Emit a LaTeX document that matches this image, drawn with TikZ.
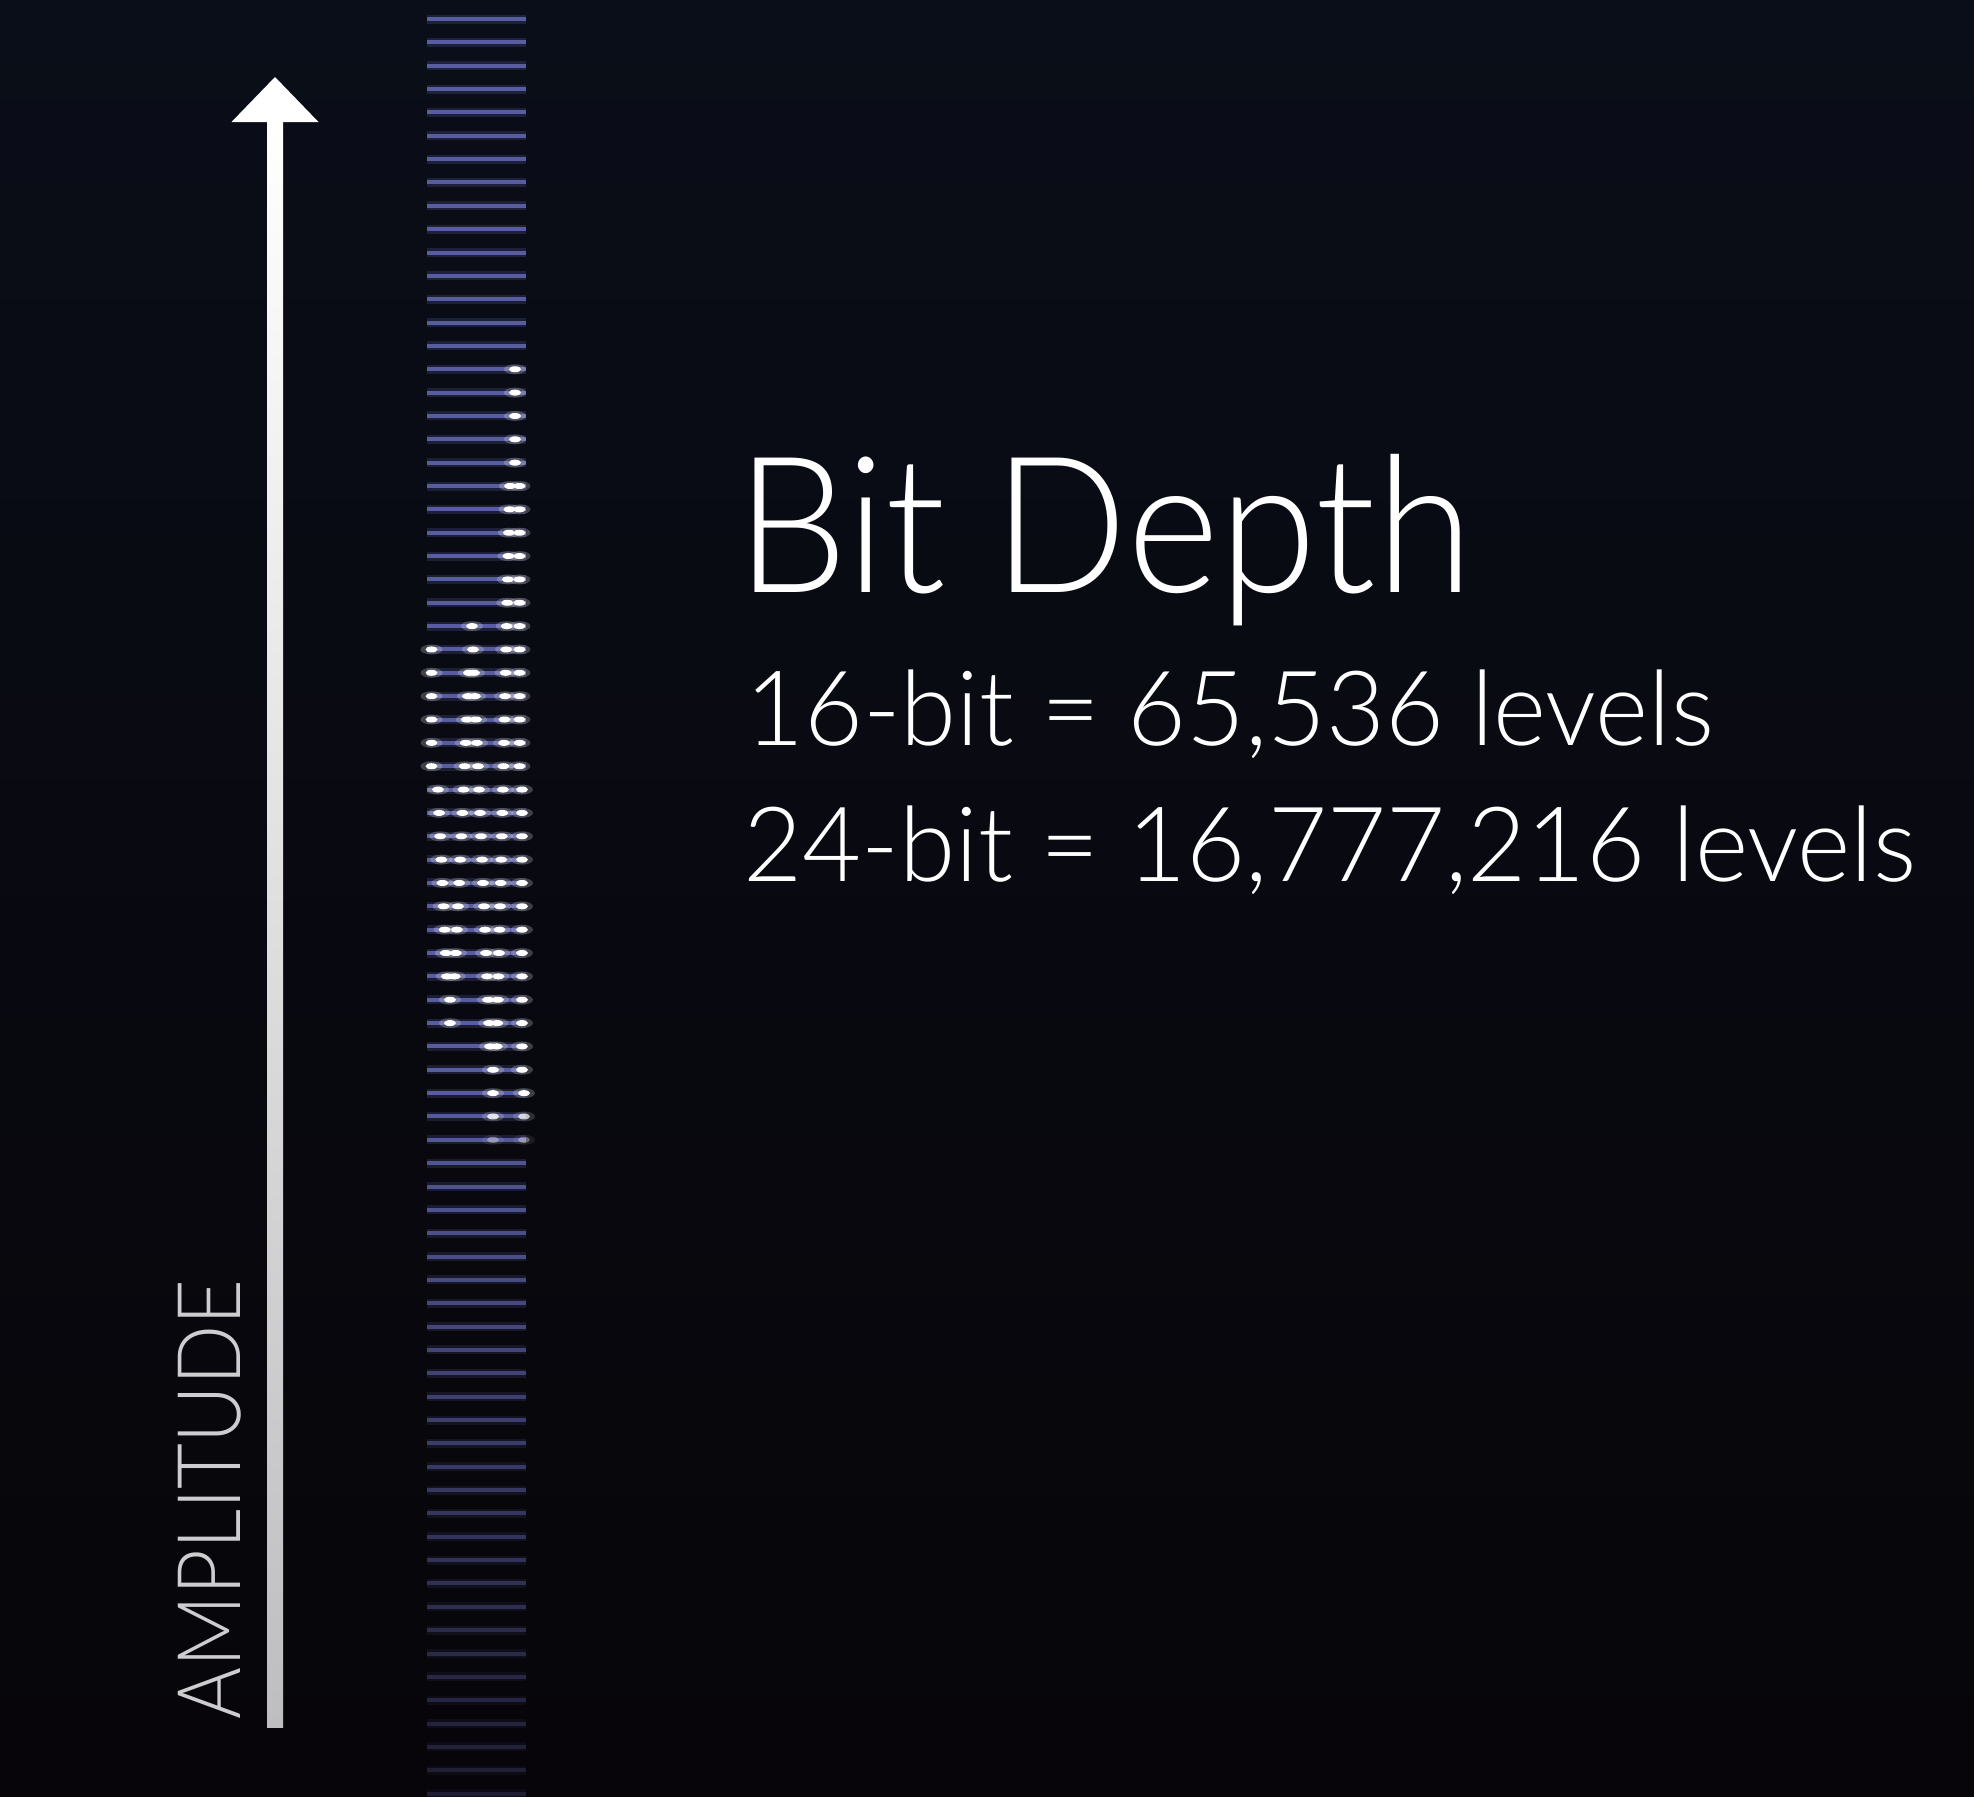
\documentclass[tikz,border=0pt]{standalone}
\usepackage{fontspec}
\setmainfont{Lato Light}
\usetikzlibrary{calc}
\definecolor{bgtop}{RGB}{10,14,24}
\definecolor{bgbot}{RGB}{7,5,9}
\definecolor{levelblue}{RGB}{88,92,160}
\definecolor{shaftgrey}{RGB}{190,190,192}
\definecolor{labelgrey}{RGB}{205,205,208}
\begin{document}
\begin{tikzpicture}[x=0.5pt,y=-0.5pt,
  level/.style={line width=2pt},
  levelglow/.style={line width=4.5pt,opacity=0.25},
  halo/.style={fill=white,opacity=0.22},
  sample/.style={fill=white},
  heading/.style={inner sep=0pt,anchor=base west,text=white}]
\useasboundingbox (0,0) rectangle (1974,1796);
\shade[top color=bgtop,bottom color=bgbot] (0,0) rectangle (1974,1796);
% quantisation levels
\foreach \k in {0,...,76}{
  \pgfmathtruncatemacro\fade{\k<46 ? 100 : 100-72*(\k-46)/30}
  \draw[levelglow,levelblue!\fade!bgbot] (427,19+23.35*\k) -- (526,19+23.35*\k);
  \draw[level,levelblue!\fade!bgbot] (427,19+23.35*\k) -- (526,19+23.35*\k);
}
% sample points
\foreach \k in {15,...,48}{
  \pgfmathsetmacro\px{\k<20 ? 515 : (\k<33 ? 519.5 : (\k<46 ? 522 : 524))}
  \pgfmathsetmacro\op{\k<47 ? 1 : (\k<48 ? 0.7 : 0.35)}
  \fill[halo,opacity=0.22*\op] (\px,19+23.35*\k) ellipse (11 and 5);
  \fill[sample,opacity=\op] (\px,19+23.35*\k) ellipse (6 and 3);
}
\foreach \k in {20,...,48}{
  \pgfmathsetmacro\px{\k<45 ? 510-0.55*(\k-20) : 493}
  \pgfmathsetmacro\op{\k<47 ? 1 : (\k<48 ? 0.8 : 0.35)}
  \fill[halo,opacity=0.22*\op] (\px,19+23.35*\k) ellipse (11 and 5);
  \fill[sample,opacity=\op] (\px,19+23.35*\k) ellipse (6 and 3);
}
\foreach \k in {26,...,44}{
  \fill[halo] (472+\k-26,19+23.35*\k) ellipse (11 and 5);
  \fill[sample] (472+\k-26,19+23.35*\k) ellipse (6 and 3);
}
\foreach \k in {28,...,43}{
  \pgfmathsetmacro\px{\k<42 ? 469-1.1*(\k-28) : 450}
  \fill[halo] (\px,19+23.35*\k) ellipse (11 and 5);
  \fill[sample] (\px,19+23.35*\k) ellipse (6 and 3);
}
\foreach \k in {27,...,41}{
  \pgfmathsetmacro\px{\k<33 ? 431.5 : 438+1.1*(\k-33)}
  \fill[halo] (\px,19+23.35*\k) ellipse (11 and 5);
  \fill[sample] (\px,19+23.35*\k) ellipse (6 and 3);
}
% amplitude axis
\coordinate (ampbot) at (275,1727);
\coordinate (amptop) at (275,122);
\coordinate (amptip) at (275,77);
\shade[top color=white,bottom color=shaftgrey] ($(ampbot)+(-8,0)$) rectangle ($(amptop)+(8,-1)$);
\fill[white] ($(amptop)+(-43.5,0)$) -- (amptip) -- ($(amptop)+(43.5,0)$) -- cycle;
\node[inner sep=0pt,anchor=base west,rotate=90,text=labelgrey,
  font=\fontsize{44}{48}\selectfont\addfontfeatures{FakeStretch=0.9}] (amplabel) at (240,1720) {AMPLITUDE};
% text
\node[heading,font=\fontsize{95}{100}\selectfont\addfontfeatures{FakeStretch=0.93}] (title) at (736,592) {Bit Depth};
\node[heading,font=\fontsize{52}{56}\selectfont\addfontfeatures{FakeStretch=0.975}] (depth16) at (745,745) {16-bit = 65,536 levels};
\node[heading,font=\fontsize{52}{56}\selectfont\addfontfeatures{FakeStretch=0.98}] (depth24) at (743,881) {24-bit = 16,777,216 levels};
\end{tikzpicture}
\end{document}
